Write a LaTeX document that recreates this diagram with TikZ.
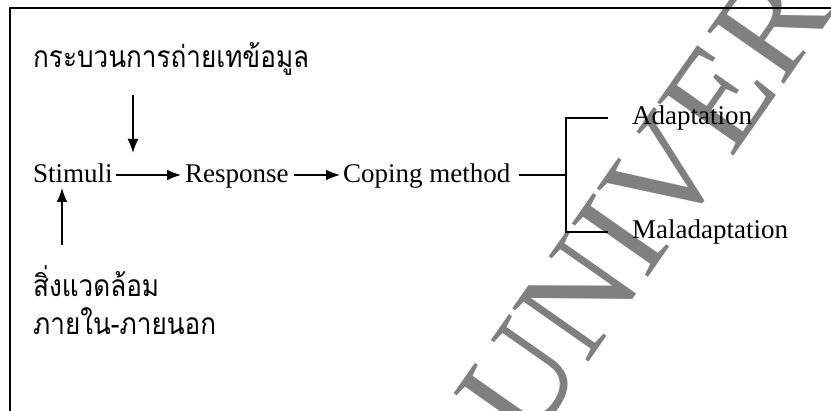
\documentclass[tikz,border=0pt]{standalone}
\usepackage{fontspec}
\setmainfont{Liberation Serif}
\newfontfamily\thaifont[Script=Thai,FakeStretch=0.87]{Loma}
\usetikzlibrary{arrows.meta}

\begin{document}
\begin{tikzpicture}[x=1pt,y=-1pt,
  lbl/.style={font=\fontsize{27}{30}\selectfont, inner sep=0pt, anchor=base west},
  thai/.style={font=\thaifont\fontsize{30}{34}\selectfont, inner sep=0pt, anchor=base west},
  link/.style={line width=1.6pt},
  arr/.style={link, -{Latex[length=14pt,width=11pt]}},
  frame/.style={line width=2.2pt},
  wmark/.style={rotate=55, anchor=base west, inner sep=0pt, text=black!50,
    font=\fontsize{142}{142}\selectfont}]
\useasboundingbox (0,0) rectangle (831,411);

% watermark lettering behind the chart
\begin{scope}
  \clip (0,0) rectangle (831,411);
  \node[wmark] (wm) at (528,450) {UNIVERSITY};
\end{scope}

% frame
\draw[frame] (10,411) -- (10,8) -- (831,8);

% labels
\node[thai] (title) at (33,68) {กระบวนการถ่ายเทข้อมูล};
\node[lbl] (stim) at (33,183) {Stimuli};
\node[lbl] (resp) at (185,183) {Response};
\node[lbl] (cope) at (343,183) {Coping method};
\node[lbl] (adapt) at (632,125) {Adaptation};
\node[lbl] (malad) at (632,239) {Maladaptation};
\node[thai] (env1) at (33,297) {สิ่งแวดล้อม};
\node[thai] (env2) at (33,335) {ภายใน-ภายนอก};

% arrow ends
\coordinate (dtop) at (133,95);
\coordinate (dtip) at (133,153);
\coordinate (ubot) at (62,245);
\coordinate (utip) at (62,188);
\coordinate (fork) at (566,175);
\coordinate (forkA) at (566,118);
\coordinate (forkM) at (566,232);
\coordinate (endA) at (608,118);
\coordinate (endM) at (608,232);

% connectors
\draw[arr] (dtop) -- (dtip);
\draw[arr] (ubot) -- (utip);
\draw[arr] ([xshift=3pt]stim.east |- 0,175) -- ([xshift=-4pt]resp.west |- 0,175);
\draw[arr] ([xshift=5pt]resp.east |- 0,175) -- ([xshift=-3pt]cope.west |- 0,175);
\draw[link] ([xshift=8pt]cope.east |- fork) -- (fork);
\draw[link] (endA) -- (forkA) -- (forkM) -- (endM);
\end{tikzpicture}
\end{document}
